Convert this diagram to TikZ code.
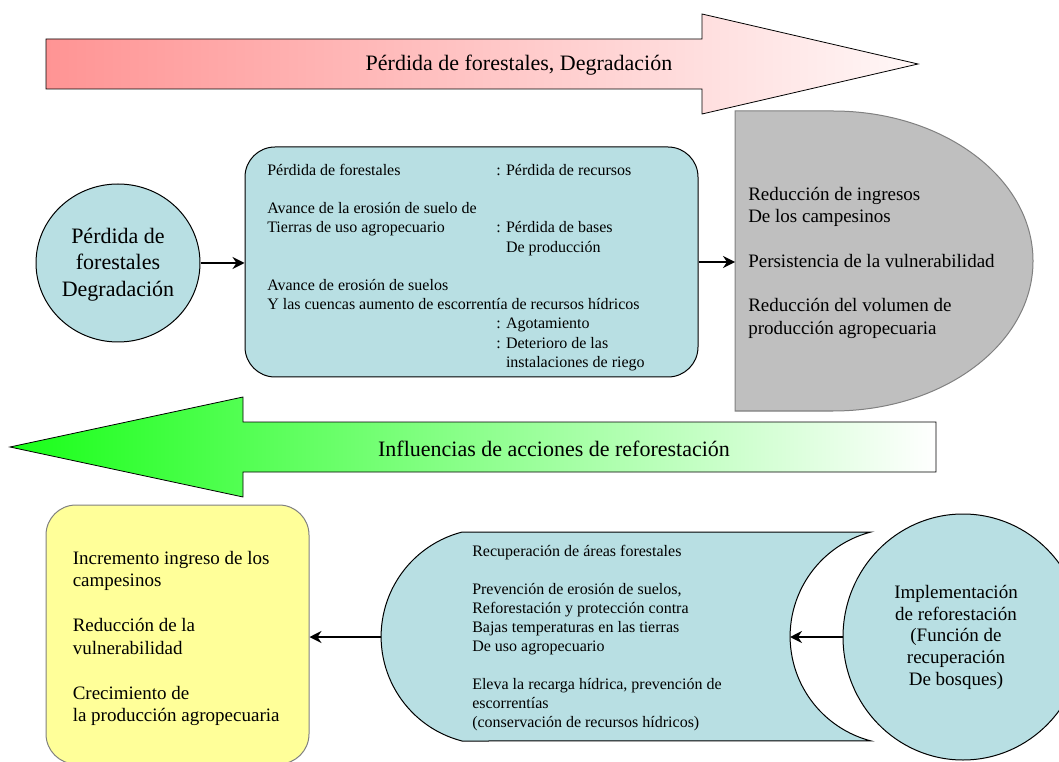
\documentclass[tikz,border=0pt]{standalone}
\usepackage{fontspec}
\setmainfont{Liberation Serif}
\usetikzlibrary{arrows.meta,shapes.geometric}
\definecolor{tealfill}{RGB}{184,223,227}
\definecolor{grayfill}{RGB}{191,191,191}
\definecolor{grayline}{RGB}{128,128,128}
\definecolor{yellowfill}{RGB}{255,255,153}
\definecolor{redL}{RGB}{255,148,148}
\definecolor{redR}{RGB}{255,247,247}
\definecolor{greenL}{RGB}{25,255,25}
\begin{document}
\begin{tikzpicture}[x=0.75pt,y=-0.75pt,
  arr/.style={line width=1.1pt,-{Stealth[length=9pt,width=9pt,inset=3pt]}},
  txt/.style={anchor=north west,inner sep=0pt,align=left},
  ctxt/.style={anchor=north,inner sep=0pt,align=center},
  outline/.style={line width=0.75pt},
  bigarrow/.style={line width=0.6pt},
  fsmall/.style={font=\fontsize{12}{14.4}\selectfont},
  fmid/.style={font=\fontsize{14.25}{16.725}\selectfont},
  fbig/.style={font=\fontsize{16.5}{20}\selectfont}]
\useasboundingbox (0,0) rectangle (1059,762);

% top arrow
\draw[bigarrow,left color=redL,right color=redR]
  (46,39) -- (702,39) -- (702,14) -- (918,64) -- (702,114) -- (702,89) -- (46,89) -- cycle;
\node[fbig,anchor=base] (t1) at (519,71) {Pérdida de forestales, Degradación};

% bottom arrow
\draw[bigarrow,left color=greenL,right color=white]
  (936,422) -- (243,422) -- (243,397) -- (10,447) -- (243,497) -- (243,472) -- (936,472) -- cycle;
\node[fbig,anchor=base] (t2) at (554,456) {Influencias de acciones de reforestación};

% left circle
\node[ellipse,draw,outline,fill=tealfill,minimum width=123pt,minimum height=118.5pt,inner sep=0pt] (c1) at (118,263) {};
\node[ctxt,fbig] (c1t) at (118,224.3) {\strut Pérdida de\\forestales\\Degradación};

% middle box
\node[draw,outline,rounded corners=22.5pt,fill=tealfill,minimum width=339.75pt,minimum height=172.5pt,inner sep=0pt] (b1) at (471.5,262) {};
\node[txt,fsmall] (b1t) at (267,161.6) {\strut\makebox[171.75pt][l]{Pérdida de forestales}: Pérdida de recursos\\[14.4pt]
Avance de la erosión de suelo de\\
\makebox[171.75pt][l]{Tierras de uso agropecuario}: Pérdida de bases\\
\hspace*{171.75pt}\phantom{: }De producción\\[14.4pt]
Avance de erosión de suelos\\
Y las cuencas aumento de escorrentía de recursos hídricos\\
\hspace*{171.75pt}: Agotamiento\\
\hspace*{171.75pt}: Deterioro de las\\
\hspace*{171.75pt}\phantom{: }instalaciones de riego};

% gray shape
\draw[draw=grayline,outline,fill=grayfill] (735,111) -- (833,111)
  arc[start angle=-90,end angle=90,x radius=200,y radius=150] -- (735,411) -- cycle;
\coordinate (gw) at (735,262);
\node[txt,fmid] (gt) at (748,184.4) {\strut Reducción de ingresos\\De los campesinos\\[16.725pt]
Persistencia de la vulnerabilidad\\[16.725pt]
Reducción del volumen de\\producción agropecuaria};

% yellow box
\node[draw=grayline,outline,fill=yellowfill,rounded corners=22.5pt,minimum width=197.25pt,minimum height=194.25pt,inner sep=0pt] (yb) at (177.5,634.5) {};
\node[txt,font=\fontsize{14.25}{16.875}\selectfont] (ybt) at (72.5,548.25) {\strut Incremento ingreso de los\\campesinos\\[16.875pt]
Reducción de la\\vulnerabilidad\\[16.875pt]
Crecimiento de\\la producción agropecuaria};

% bottom middle shape
\draw[outline,fill=tealfill] (462,532) -- (871,532)
  arc[start angle=255.5,end angle=104.5,radius=107.9] -- (462,741)
  arc[start angle=104.5,end angle=255.5,radius=107.9] -- cycle;
\coordinate (sl) at (381,637);
\coordinate (sr) at (790,637);
\node[txt,font=\fontsize{12}{14.25}\selectfont] (st) at (472,542.7) {\strut Recuperación de áreas forestales\\[14.25pt]
Prevención de erosión de suelos,\\Reforestación y protección contra\\Bajas temperaturas en las tierras\\De uso agropecuario\\[14.25pt]
Eleva la recarga hídrica, prevención de\\escorrentías\\(conservación de recursos hídricos)};

% right circle
\node[ellipse,draw,outline,fill=tealfill,minimum width=180pt,minimum height=184.5pt,inner sep=0pt] (c2) at (963,637) {};
\node[ctxt,font=\fontsize{14.25}{16.35}\selectfont] (c2t) at (956,582.7) {\strut Implementación\\de reforestación\\(Función de\\recuperación\\De bosques)};

% connectors
\draw[arr] (c1.east) -- (c1.east -| b1.west);
\draw[arr] (b1.east) -- (gw);
\draw[arr] (c2.west) -- (sr);
\draw[arr] (sl) -- (sl -| yb.east);
\end{tikzpicture}
\end{document}
